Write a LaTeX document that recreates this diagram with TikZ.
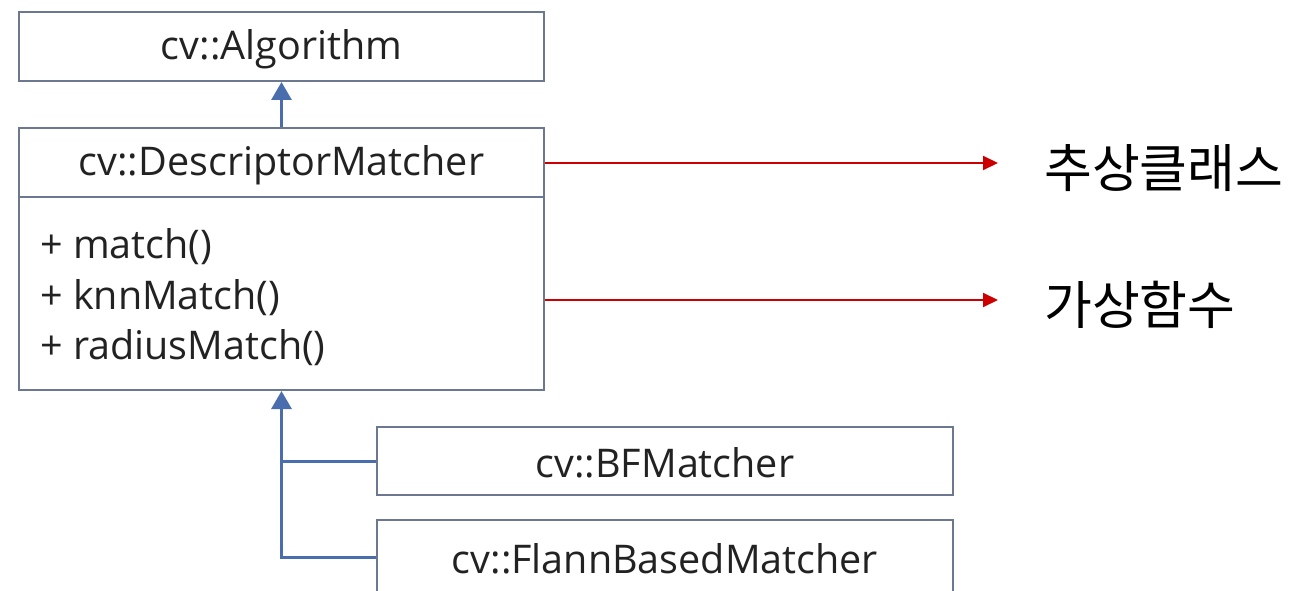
\documentclass[tikz,border=0pt]{standalone}
\usepackage{fontspec}
\setmainfont{Open Sans}
\newfontfamily\krfont{Noto Sans CJK KR}
\usetikzlibrary{arrows.meta}
\definecolor{boxline}{HTML}{6B7890}
\definecolor{conn}{HTML}{4A6DAE}
\definecolor{txt}{HTML}{222222}
\definecolor{redl}{HTML}{CC0000}
\begin{document}
\begin{tikzpicture}[x=1pt,y=-1pt,
  box/.style={draw=boxline, line width=2pt, inner sep=0pt},
  txtnode/.style={inner sep=0pt, text=txt, font=\fontsize{39.5}{44}\selectfont},
  method/.style={inner sep=0pt, anchor=west, text=txt, font=\fontsize{39.5}{44}\selectfont},
  inherit/.style={draw=conn, line width=3pt, -{Triangle[length=18pt,width=20pt]}},
  branch/.style={draw=conn, line width=3pt},
  note/.style={draw=redl, line width=2pt, -{Triangle[length=15pt,width=14pt]}},
  krlabel/.style={inner sep=0pt, anchor=west, font=\krfont\fontsize{52}{58}\selectfont}
]
\useasboundingbox (0,0) rectangle (1295,591);
\fill[white] (0,0) rectangle (1295,591);

\node[box, minimum width=525pt, minimum height=69pt] (alg) at (281.5,46.5) {};
\node[txtnode] (algt) at (281.5,49) {cv::Algorithm};
\node[box, minimum width=525pt, minimum height=262pt] (dm) at (281.5,259) {};
\node[txtnode] (dmt) at (281.5,165) {cv::DescriptorMatcher};
\coordinate (divy) at (0,197);
\draw[draw=boxline, line width=2pt] (dm.west |- divy) -- (dm.east |- divy);
\node[method] (m1) at (40,247) {+ match()};
\node[method] (m2) at (40,298) {+ knnMatch()};
\node[method] (m3) at (40,348) {+ radiusMatch()};

\node[box, minimum width=576pt, minimum height=68pt] (bf) at (665,461) {};
\node[txtnode] (bft) at (665,463) {cv::BFMatcher};
\node[box, minimum width=576pt, minimum height=90pt] (fl) at (665,565) {};
\node[txtnode] (flt) at (665,559) {cv::FlannBasedMatcher};

\coordinate (r1) at (0,163);
\coordinate (r2) at (0,300);
\coordinate (br) at (0,557);
\draw[inherit] (dm.north) -- (alg.south);
\draw[inherit] (fl.west |- br) -| (dm.south);
\draw[branch] (bf.west) -- (bf.west -| dm.south);

\coordinate (e1) at (998,163);
\coordinate (e2) at (998,300);
\draw[note] (r1 -| dm.east) -- (e1);
\draw[note] (r2 -| dm.east) -- (e2);
\node[krlabel] (abs) at (1044,168) {추상클래스};
\node[krlabel] (virt) at (1044,305) {가상함수};
\end{tikzpicture}
\end{document}
